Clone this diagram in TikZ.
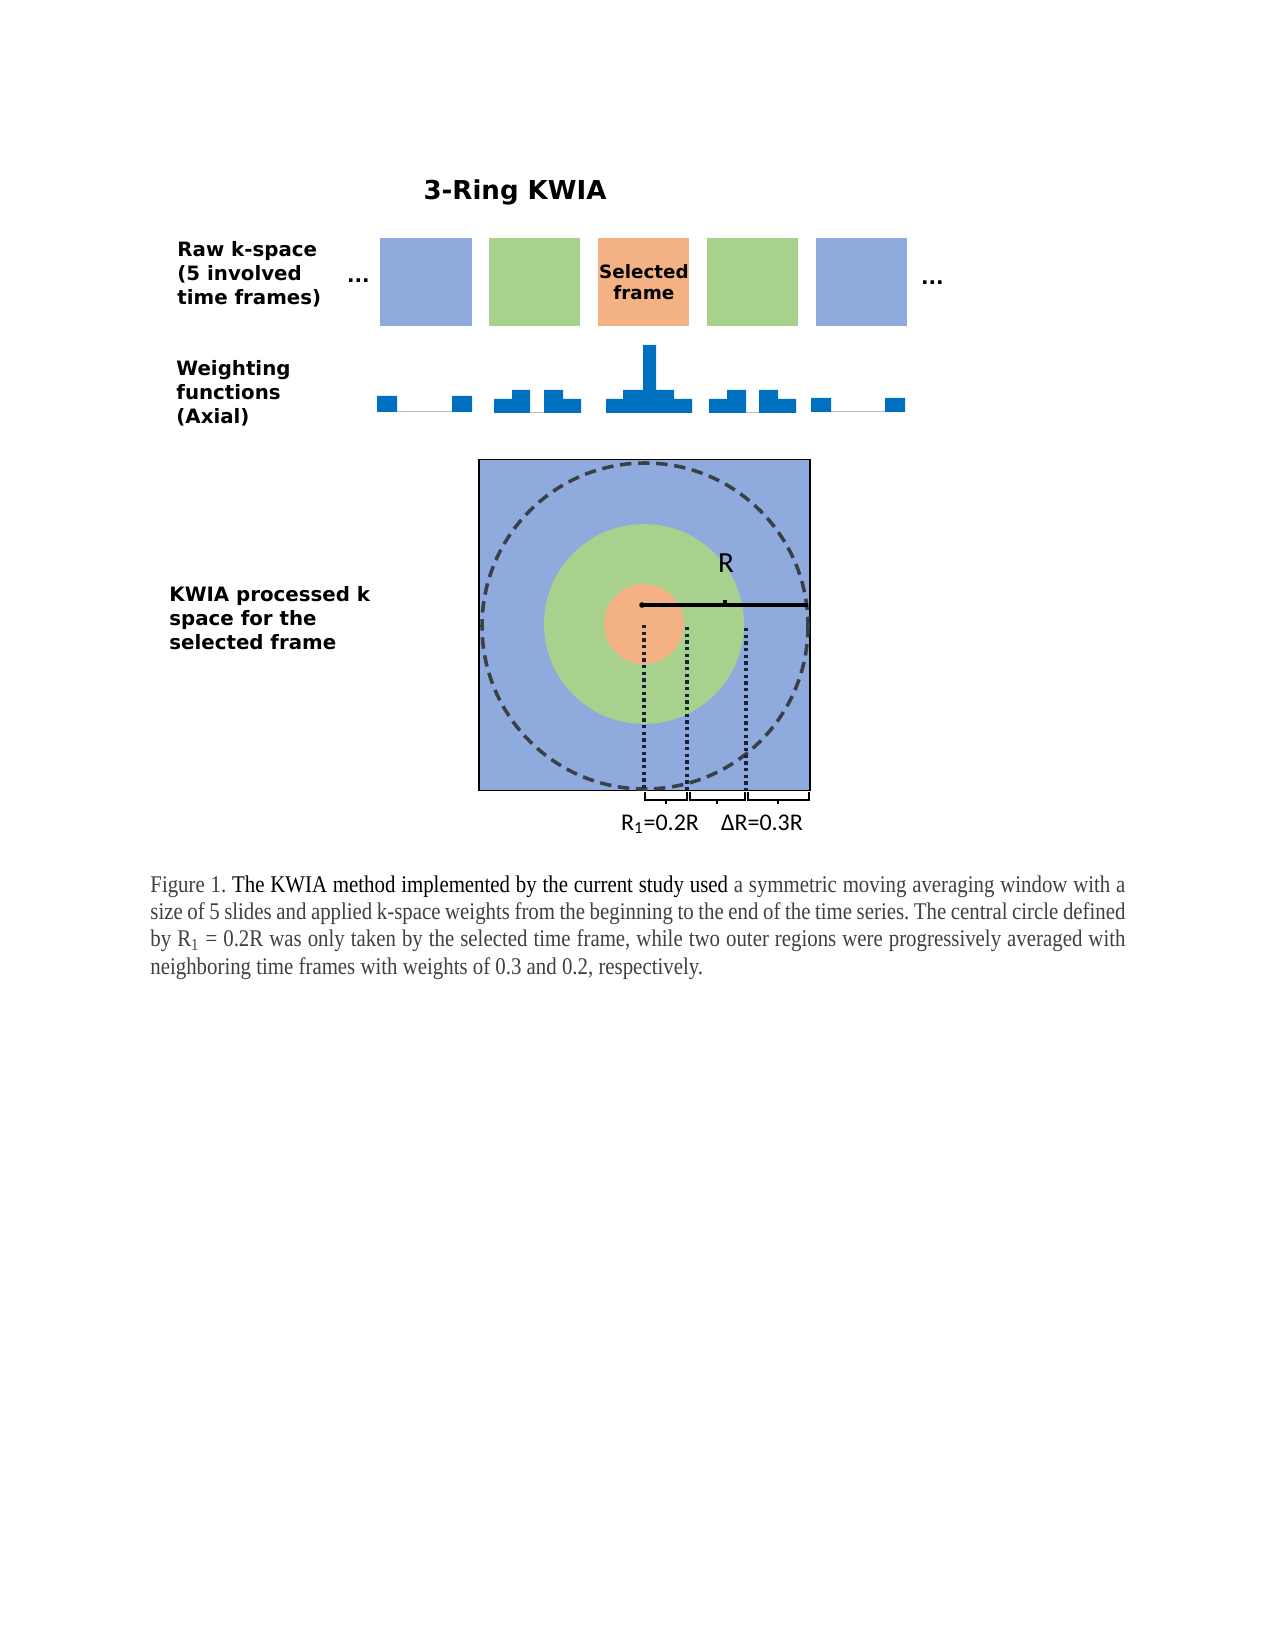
\documentclass[tikz,border=0pt]{standalone}
\usepackage{fontspec}
\setmainfont{Liberation Serif}
\newfontfamily\labelfont{DejaVu Sans}
\newfontfamily\dimfont{Carlito}
\newfontfamily\capfont{Liberation Serif}[FakeStretch=0.87]
\usetikzlibrary{calc,positioning}

\definecolor{kblue}{HTML}{8FAADC}
\definecolor{kgreen}{HTML}{A9D18E}
\definecolor{korange}{HTML}{F4B183}
\definecolor{barblue}{HTML}{0070C0}
\definecolor{dashgray}{HTML}{3B3F48}
\definecolor{dotnavy}{HTML}{1B2238}
\definecolor{capgray}{HTML}{404040}

\begin{document}
\begin{tikzpicture}[x=0.48pt, y=-0.48pt,
node distance = 8.6pt,
frame/.style = {minimum width=43.7pt, minimum height=42.7pt,
                inner sep=0pt, outer sep=0pt},
rowlabel/.style = {anchor=north west, inner sep=0pt, align=left,
                   font=\labelfont\bfseries\fontsize{9.5}{11.5}\selectfont},
wbar/.style = {fill=barblue},
wline/.style = {draw=gray!55, line width=0.5pt},
ring/.style = {draw=dashgray, line width=1.7pt, dash pattern=on 5.5pt off 3.2pt},
dotline/.style = {draw=dotnavy, line width=1.7pt, dash pattern=on 1.6pt off 1.6pt},
bracket/.style = {draw, line width=1.3pt},
dimlabel/.style = {font=\dimfont\fontsize{11.5}{13}\selectfont, inner sep=0pt, anchor=base}
                ]
\useasboundingbox (0,0) rectangle (1275,1650);
\fill[white] (0,0) rectangle (1275,1650);

%% title and row labels
\node (title) [anchor=base, inner sep=0pt,
               font=\labelfont\bfseries\fontsize{12.5}{14}\selectfont] at (515,200) {3-Ring KWIA};
\node (lblraw) [rowlabel] at (177,241) {Raw k-space\\(5 involved\\time frames)};
\node (lblweight) [rowlabel] at (176,360) {Weighting\\functions\\(Axial)};
\node (lblkwia) [rowlabel] at (169,586) {KWIA processed k\\space for the\\selected frame};

%% raw k-space frames
\node (f1) [frame, fill=kblue] at (426,282) {};
\node (f2) [frame, fill=kgreen, right=of f1] {};
\node (f3) [frame, fill=korange, right=of f2, align=center,
            font=\labelfont\bfseries\fontsize{8.8}{10}\selectfont] {Selected\\frame};
\node (f4) [frame, fill=kgreen, right=of f3] {};
\node (f5) [frame, fill=kblue, right=of f4] {};
\node (dotsl) [anchor=base, inner sep=0pt, font=\labelfont\bfseries\fontsize{9.5}{11}\selectfont]
      at ($(f1.west)+(-22,1)$) {...};
\node (dotsr) [anchor=base, inner sep=0pt, font=\labelfont\bfseries\fontsize{9.5}{11}\selectfont]
      at ($(f5.east)+(25,3)$) {...};

%% weighting functions
\draw[wline] (397,411.5) -- (452,411.5);
\fill[wbar] (377,396) rectangle (397,412) (452,396) rectangle (472,412);
\draw[wline] (530,412.5) -- (544,412.5);
\fill[wbar] (494,399) rectangle (512,413) (512,390) rectangle (530,413)
            (544,390) rectangle (563,413) (563,399) rectangle (581,413);
\fill[wbar] (606,399) rectangle (623,413) (623,390) rectangle (643,413)
            (643,345) rectangle (656,413) (656,390) rectangle (674,413)
            (674,399) rectangle (692,413);
\draw[wline] (746,412.5) -- (759,412.5);
\fill[wbar] (709,399) rectangle (727,413) (727,390) rectangle (746,413)
            (759,390) rectangle (778,413) (778,399) rectangle (796,413);
\draw[wline] (831,411.5) -- (885,411.5);
\fill[wbar] (811,398) rectangle (831,412) (885,398) rectangle (905,412);

%% processed k-space
\node (kspace) [draw, line width=0.8pt, fill=kblue, minimum size=158.9pt,
                inner sep=0pt] at (644.5,625) {};
\coordinate (c) at (644,624);
\fill[kgreen] (c) circle (100);
\fill[korange] (c) circle (40);
\draw[ring] (645,626) circle (163);

\coordinate (rA) at (642,605);
\coordinate (rB) at (808,605);
\coordinate (rT) at (725,605);
\draw[line width=1.6pt] (rA) -- (rB);
\fill (rA) circle (2.8);
\draw[line width=1.5pt] (rT) -- ++(0,-5);
\node (rlabel) [dimlabel, font=\dimfont\fontsize{14}{16}\selectfont] at (726,572) {R};

\draw[dotline] (644,625) -- (644,790);
\draw[dotline] (687,627) -- (687,790);
\draw[dotline] (746,628) -- (746,790);

\draw[bracket] (645,792) -- (645,800) -- (687,800) -- (687,792) (666,800) -- (666,804);
\draw[bracket] (690,792) -- (690,800) -- (745,800) -- (745,792) (717,800) -- (717,804);
\draw[bracket] (748,792) -- (748,800) -- (809,800) -- (809,792) (778,800) -- (778,804);

\node (r1lbl) [dimlabel] at (660,830) {R\textsubscript{1}=0.2R};
\node (drlbl) [dimlabel] at (762,830) {ΔR=0.3R};

%% caption
\node (caption) [anchor=north west, inner sep=0pt, align=left, text=capgray,
                 font=\capfont\fontsize{11.5}{13.15}\selectfont\frenchspacing] at (150,875) {%
\makebox[468pt][s]{Figure 1. \textcolor{black}{The KWIA method implemented by the current study used} a symmetric moving averaging window with a}\\
\makebox[468pt][s]{size of 5 slides and applied k-space weights from the beginning to the end of the time series. The central circle defined}\\
\makebox[468pt][s]{by R\textsubscript{1} = 0.2R was only taken by the selected time frame, while two outer regions were progressively averaged with}\\
neighboring time frames with weights of 0.3 and 0.2, respectively.};
\end{tikzpicture}
\end{document}
